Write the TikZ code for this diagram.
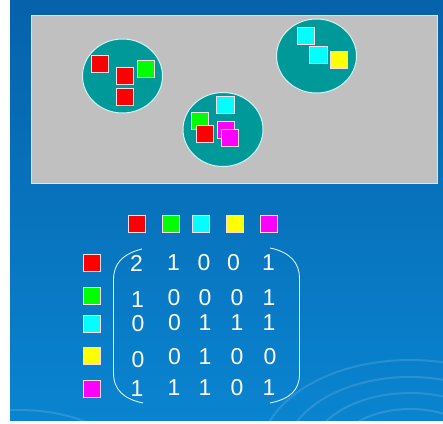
\documentclass[tikz,border=0pt]{standalone}
\usepackage{fontspec}
\setmainfont{Liberation Sans}
\usetikzlibrary{shapes.geometric}
\definecolor{bgtop}{RGB}{6,98,170}
\definecolor{bgbot}{RGB}{10,132,208}
\definecolor{panel}{RGB}{192,192,192}
\definecolor{panelline}{RGB}{200,235,245}
\definecolor{tealfill}{RGB}{0,153,153}
\definecolor{circline}{RGB}{210,245,245}
\definecolor{sqline}{RGB}{245,220,230}
\definecolor{cred}{RGB}{255,0,0}
\definecolor{cgreen}{RGB}{0,255,0}
\definecolor{ccyan}{RGB}{0,255,255}
\definecolor{cyel}{RGB}{255,255,0}
\definecolor{cmag}{RGB}{255,0,255}
\tikzset{
  sq/.style={draw=sqline, line width=0.9pt, minimum width=17pt, minimum height=17pt, inner sep=0pt, fill=#1},
  blob/.style={ellipse, draw=circline, line width=1pt, fill=tealfill, minimum width=80pt, minimum height=74pt, inner sep=0pt},
  num/.style={text=white, font=\fontsize{23}{23}\selectfont, inner sep=0pt},
  paren/.style={draw=white!85!cyan, line width=0.9pt},
  ripple/.style={draw=white, opacity=0.13, line width=2pt}
}
\begin{document}
\begin{tikzpicture}[x=1pt,y=-1pt]
\useasboundingbox[fill=white] (0,0) rectangle (443,423);
\shade[top color=bgtop, bottom color=bgbot] (10,0) rectangle (443,420);
\begin{scope}
\clip (10,0) rectangle (443,420);
\draw[ripple] (410,455) ellipse (150 and 95);
\draw[ripple] (410,455) ellipse (125 and 78);
\draw[ripple] (410,455) ellipse (100 and 62);
\draw[ripple] (410,455) ellipse (75 and 46);
\draw[ripple] (20,470) ellipse (110 and 60);
\end{scope}
% panel
\draw[draw=panelline, line width=1pt, fill=panel] (31,15) rectangle (437,183);
% circles
\node[blob] (c1) at (122.5,76) {};
\node[blob] (c2) at (223,129.5) {};
\node[blob] (c3) at (316.5,56) {};
% squares in circle 1
\node[sq=cred] (a1) at (99.5,64) {};
\node[sq=cred] (a2) at (124.5,76) {};
\node[sq=cgreen] (a3) at (145.5,68.5) {};
\node[sq=cred] (a4) at (124.5,96.5) {};
% squares in circle 2
\node[sq=ccyan, minimum width=18.5pt] (b1) at (225.5,104.5) {};
\node[sq=cgreen] (b2) at (199.5,121) {};
\node[sq=cred] (b3) at (204.5,134) {};
\node[sq=cmag] (b4) at (225.5,130) {};
\node[sq=cmag] (b5) at (229.5,137.5) {};
% squares in circle 3
\node[sq=ccyan] (d1) at (305.5,35.5) {};
\node[sq=ccyan, minimum width=18pt] (d2) at (318,55) {};
\node[sq=cyel] (d3) at (339,59.5) {};
% header squares
\node[sq=cred] (h1) at (137,223.5) {};
\node[sq=cgreen] (h2) at (170.5,223.5) {};
\node[sq=ccyan] (h3) at (200.5,223.5) {};
\node[sq=cyel] (h4) at (235,223.5) {};
\node[sq=cmag] (h5) at (269,223.5) {};
% row squares
\node[sq=cred] (r1) at (92,262.5) {};
\node[sq=cgreen] (r2) at (92,295.5) {};
\node[sq=ccyan] (r3) at (92,323.5) {};
\node[sq=cyel] (r4) at (92,356) {};
\node[sq=cmag] (r5) at (92,388.5) {};
% matrix entries
\node[num] (m11) at (136.5,263) {2};
\node[num] (m12) at (173.5,263) {1};
\node[num] (m13) at (204,263) {0};
\node[num] (m14) at (233.5,263) {0};
\node[num] (m15) at (268.5,263) {1};
\node[num] (m21) at (137.5,300) {1};
\node[num] (m22) at (174,298) {0};
\node[num] (m23) at (205,298) {0};
\node[num] (m24) at (237,298) {0};
\node[num] (m25) at (269,298) {1};
\node[num] (m31) at (138,324) {0};
\node[num] (m32) at (174.5,323) {0};
\node[num] (m33) at (205,323) {1};
\node[num] (m34) at (237,323) {1};
\node[num] (m35) at (269,323) {1};
\node[num] (m41) at (138,360) {0};
\node[num] (m42) at (174.5,357) {0};
\node[num] (m43) at (205,357) {1};
\node[num] (m44) at (237,357) {0};
\node[num] (m45) at (270,357) {0};
\node[num] (m51) at (137,389) {1};
\node[num] (m52) at (174,388) {1};
\node[num] (m53) at (205,388) {1};
\node[num] (m54) at (237,388) {0};
\node[num] (m55) at (269,388) {1};
% parentheses
\draw[paren] (142,249) .. controls (122,254) and (113.5,264) .. (113.5,280)
  -- (113.5,373) .. controls (113.5,390) and (124,399) .. (143,403);
\draw[paren] (270,248) .. controls (290,252) and (299.5,263) .. (299.5,278)
  -- (299.5,374) .. controls (299.5,390) and (290,399) .. (270,403);
\end{tikzpicture}
\end{document}
